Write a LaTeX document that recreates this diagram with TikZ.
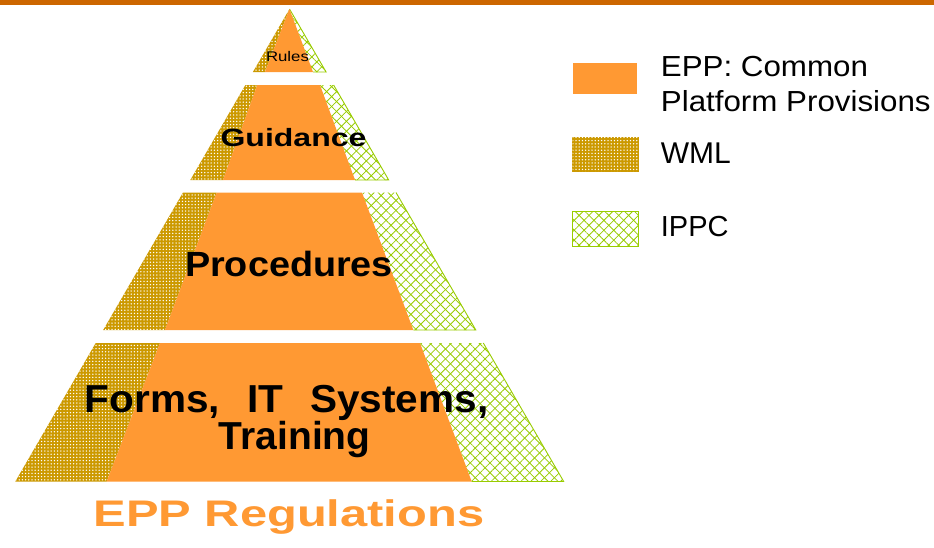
\documentclass[tikz,border=0pt]{standalone}
\usepackage{fontspec}
\setmainfont{Liberation Sans}
\usetikzlibrary{patterns.meta}
\definecolor{eppor}{HTML}{FF9933}
\definecolor{wmlbr}{HTML}{CC9900}
\definecolor{ippcgr}{HTML}{99CC00}
\definecolor{topbar}{HTML}{CC6600}
\tikzset{
  eppfill/.style={fill=eppor},
  wmlfill/.style={fill=wmlbr, postaction={pattern={Dots[distance=3.2pt,radius=0.75pt]}, pattern color=white}},
  ippcfill/.style={fill=white,
    postaction={pattern={Lines[angle=45,distance=7pt,line width=0.8pt]}, pattern color=ippcgr},
    postaction={pattern={Lines[angle=-45,distance=7pt,line width=0.8pt]}, pattern color=ippcgr}},
  ippcedge/.style={draw=ippcgr, line width=0.9pt},
  lbl/.style={inner sep=0pt, anchor=base, text=black},
  leg/.style={inner sep=0pt, anchor=base west, text=black},
}
\begin{document}
\begin{tikzpicture}[x=1pt,y=-1pt]
\useasboundingbox (0,0) rectangle (934,547);
\fill[white] (0,0) rectangle (934,547);
\fill[topbar] (0,0) rectangle (934,4.5);

% Tier 1: Rules
\path[wmlfill] (289.5,9) -- (252.9,72) -- (265,72) -- cycle;
\path[ippcfill] (289.5,9) -- (313,72) -- (326.1,72) -- cycle;
\draw[ippcedge] (289.5,9) -- (326.1,72) -- (313,72);
\path[eppfill] (289.5,9) -- (265,72) -- (313,72) -- cycle;

% Tier 2: Guidance
\path[wmlfill] (245.4,85) -- (257.3,85) -- (223,180) -- (190.3,180) -- cycle;
\path[ippcfill] (320,85) -- (333.6,85) -- (388.7,180) -- (355,180) -- cycle;
\draw[ippcedge] (333.6,85) -- (388.7,180) -- (355,180);
\path[eppfill] (257.3,85) -- (320,85) -- (355,180) -- (223,180) -- cycle;

% Tier 3: Procedures
\path[wmlfill] (183.0,192.5) -- (216.7,192.5) -- (165,330) -- (103.2,330) -- cycle;
\path[ippcfill] (362,192.5) -- (396.0,192.5) -- (475.8,330) -- (413.3,330) -- cycle;
\draw[ippcedge] (396.0,192.5) -- (475.8,330) -- (413.3,330);
\path[eppfill] (216.7,192.5) -- (362,192.5) -- (413.3,330) -- (165,330) -- cycle;

% Tier 4: Forms, IT Systems, Training
\path[wmlfill] (95.7,343) -- (160,343) -- (106.7,481.5) -- (15.3,481.5) -- cycle;
\path[ippcfill] (420,343) -- (483.3,343) -- (563.7,481.5) -- (471.7,481.5) -- cycle;
\draw[ippcedge] (483.3,343) -- (563.7,481.5) -- (471.7,481.5);
\path[eppfill] (160,343) -- (420,343) -- (471.7,481.5) -- (106.7,481.5) -- cycle;

% Tier labels
\node[lbl] (rules) at (287.5,61.7) {\scalebox{1.2}[1]{\fontsize{14}{16}\selectfont Rules}};
\node[lbl] (guidance) at (293.5,146.7) {\scalebox{1.28}[1]{\fontsize{25}{30}\selectfont\bfseries Guidance}};
\node[lbl] (procedures) at (289,276.7) {\scalebox{1.08}[1]{\fontsize{35}{40}\selectfont\bfseries Procedures}};
\node[inner sep=0pt, anchor=north, align=center, text=black, font={\fontsize{39}{35}\selectfont\bfseries}] (forms) at (286.7,384.8)
  {\scalebox{1.04}[1]{Forms,\hspace{26pt}IT\hspace{26pt}Systems,}\\\hspace*{16pt}Training};
\node[lbl, text=eppor] (title) at (289,526.7) {\scalebox{1.32}[1]{\fontsize{37}{42}\selectfont\bfseries EPP Regulations}};

% Legend
\path[eppfill] (572.7,62.7) rectangle (636.7,94.3);
\path[wmlfill, draw=wmlbr, line width=0.8pt] (572.7,137.3) rectangle (638.7,171);
\path[ippcfill, draw=ippcgr, line width=0.9pt] (572.7,211) rectangle (638,246);
\node[leg] (leg1a) at (660.7,76) {\scalebox{1.08}[1]{\fontsize{29}{34}\selectfont EPP: Common}};
\node[leg] (leg1b) at (660.7,111.7) {\scalebox{1.08}[1]{\fontsize{29}{34}\selectfont Platform Provisions}};
\node[leg] (leg2) at (660.7,163.3) {\fontsize{30}{34}\selectfont WML};
\node[leg] (leg3) at (660.7,236.7) {\fontsize{29}{34}\selectfont IPPC};
\end{tikzpicture}
\end{document}
